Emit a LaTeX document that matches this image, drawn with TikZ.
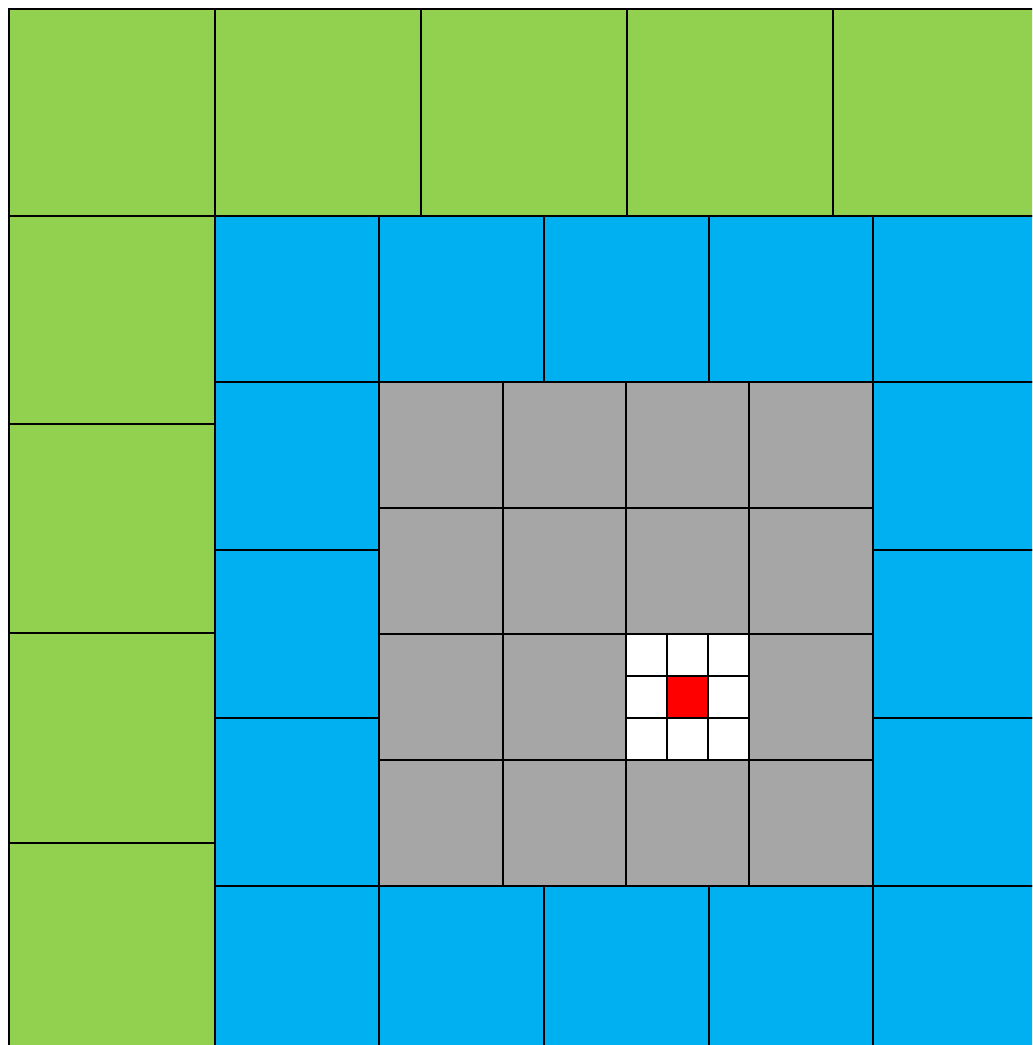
\documentclass[tikz,border=0pt]{standalone}
\definecolor{cgreen}{HTML}{92D050}
\definecolor{cblue}{HTML}{00B0F0}
\definecolor{cgray}{HTML}{A6A6A6}
\definecolor{cred}{HTML}{FF0000}
\tikzset{cell/.style={draw=black,line width=1.5pt}}
\begin{document}
\begin{tikzpicture}[x=0.75pt,y=-0.75pt]
\useasboundingbox (0,0) rectangle (1032,1045);
\clip (0,0) rectangle (1032,1045);
% green top row
\foreach \a/\b in {8.5/214.5,214.5/420.5,420.5/626.5,626.5/832.5,832.5/1038.5}
  \filldraw[cell,fill=cgreen] (\a,9.5) rectangle (\b,216);
% green left column
\foreach \a/\b in {216/424,424/633,633/843,843/1053}
  \filldraw[cell,fill=cgreen] (8.5,\a) rectangle (214.5,\b);
% blue top and bottom rows
\foreach \a/\b in {214.5/379,379/544,544/708.5,708.5/873,873/1038}{
  \filldraw[cell,fill=cblue] (\a,216) rectangle (\b,382);
  \filldraw[cell,fill=cblue] (\a,885.5) rectangle (\b,1051);
}
% blue left and right columns
\foreach \a/\b in {382/550,550/718,718/885.5}{
  \filldraw[cell,fill=cblue] (214.5,\a) rectangle (379,\b);
  \filldraw[cell,fill=cblue] (873,\a) rectangle (1038,\b);
}
% gray 4x4
\foreach \a/\b in {379/502.5,502.5/626,626/749,749/873}
  \foreach \c/\d in {382/508,508/633.5,633.5/760,760/885.5}
    \filldraw[cell,fill=cgray] (\a,\c) rectangle (\b,\d);
% white 3x3 with red centre
\foreach \a/\b in {626/667,667/708,708/749}
  \foreach \c/\d in {633.5/675.5,675.5/717.5,717.5/760}
    \filldraw[cell,fill=white] (\a,\c) rectangle (\b,\d);
\filldraw[cell,fill=cred] (667,675.5) rectangle (708,717.5);
\end{tikzpicture}
\end{document}
